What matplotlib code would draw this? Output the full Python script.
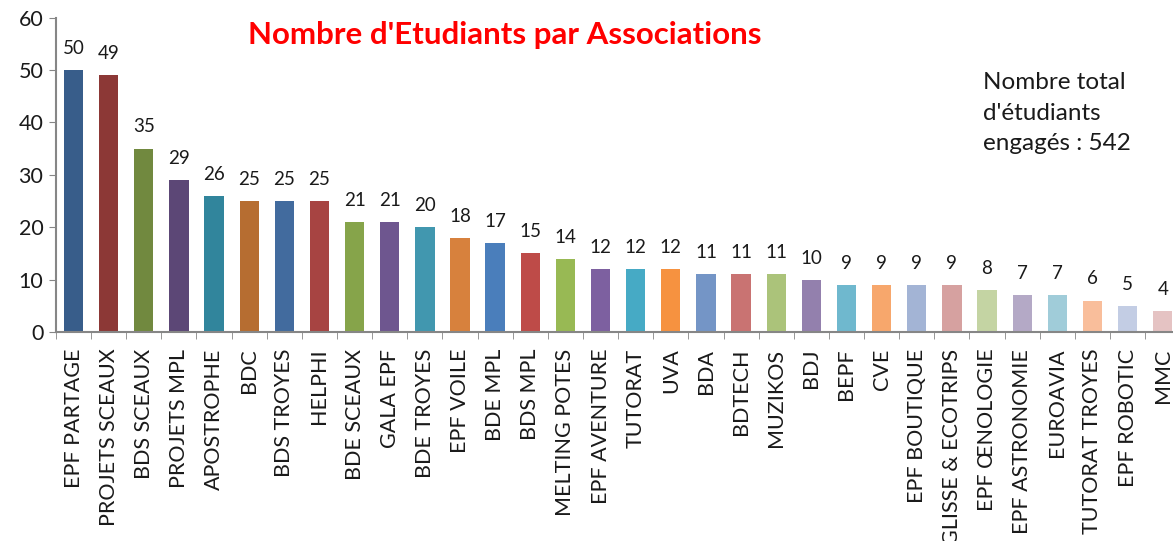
import matplotlib.pyplot as plt
import numpy as np

plt.rcParams['font.family'] = ['Lato', 'DejaVu Sans']

associations = ['EPF PARTAGE', 'PROJETS SCEAUX', 'BDS SCEAUX', 'PROJETS MPL', 'APOSTROPHE',
                'BDC', 'BDS TROYES', 'HELPHI', 'BDE SCEAUX', 'GALA EPF', 'BDE TROYES',
                'EPF VOILE', 'BDE MPL', 'BDS MPL', 'MELTING POTES', 'EPF AVENTURE',
                'TUTORAT', 'UVA', 'BDA', 'BDTECH', 'MUZIKOS', 'BDJ', 'BEPF', 'CVE',
                'EPF BOUTIQUE', 'GLISSE & ECOTRIPS', 'EPF ŒNOLOGIE', 'EPF ASTRONOMIE',
                'EUROAVIA', 'TUTORAT TROYES', 'EPF ROBOTIC', 'MMC']
students = [50, 49, 35, 29, 26, 25, 25, 25, 21, 21, 20, 18, 17, 15, 14, 12, 12, 12,
            11, 11, 11, 10, 9, 9, 9, 9, 8, 7, 7, 6, 5, 4]
bar_colors = ['#385D8A', '#8C3836', '#71893F', '#5C4776', '#31859C', '#B66D31',
              '#426B9E', '#A74442', '#86A44A', '#6E568F', '#4197AF', '#D7813D',
              '#4A7EBB', '#BE4B48', '#98B954', '#7D60A0', '#46AAC5', '#F69240',
              '#7495C6', '#C97372', '#ABC37A', '#9380AD', '#6FB8CE', '#F7A76C',
              '#A3B4D5', '#D6A1A0', '#C4D4A3', '#B4A9C6', '#A0CCD9', '#F9BE9B',
              '#C3CDE4', '#E5C3C3']
total = 542

fig = plt.figure(figsize=(11.73, 5.41), dpi=100)
ax = fig.add_axes([0.0477, 0.3863, 0.9585, 0.5812])

x = np.arange(len(associations))
ax.bar(x, students, width=0.55, color=bar_colors)
for xi, v in zip(x, students):
    ax.text(xi, v + 2.5, str(v), ha='center', va='bottom', fontsize=13.5, color='#1a1a1a')

ax.set_xlim(-0.5, len(associations) - 0.5)
ax.set_ylim(0, 60)
ax.set_yticks(range(0, 61, 10))
ax.tick_params(axis='y', labelsize=15.5, length=5, color='#868686', pad=4, labelcolor='#1a1a1a')

ax.set_xticks(x)
ax.set_xticklabels(associations, rotation=90, fontsize=15.5, color='#1a1a1a')
ax.tick_params(axis='x', length=0, pad=12)
ax.set_xticks(np.arange(-0.5, len(associations), 1), minor=True)
ax.tick_params(axis='x', which='minor', length=5, color='#868686')

for side in ['top', 'right']:
    ax.spines[side].set_visible(False)
for side in ['left', 'bottom']:
    ax.spines[side].set_color('#868686')
    ax.spines[side].set_linewidth(1.5)

fig.text(0.43, 0.936, "Nombre d'Etudiants par Associations", color='#FF0000',
         fontsize=22.5, fontweight='bold', ha='center', va='center')
fig.text(0.838, 0.866, f"Nombre total\nd'étudiants\nengagés : {total}", fontsize=17.5,
         ha='left', va='top', linespacing=1.55, color='#1a1a1a')

fig.savefig('out.png', dpi=100)
